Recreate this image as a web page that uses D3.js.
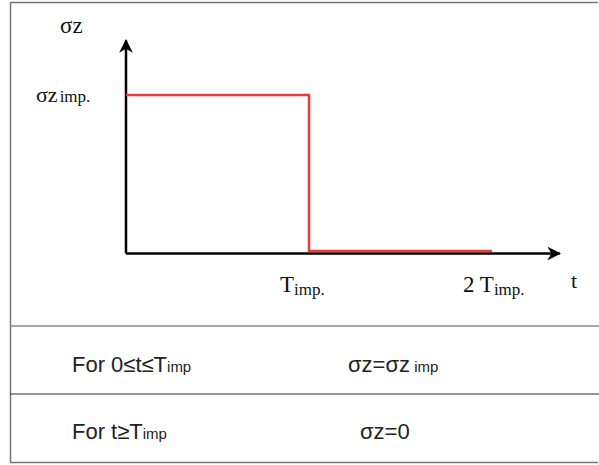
<!DOCTYPE html>
<html>
<head>
<meta charset="utf-8">
<script src="https://cdn.jsdelivr.net/npm/d3@7"></script>
<style>
  body { margin: 0; background: #fff; }
  .serif { font-family: "Liberation Serif", "DejaVu Serif", serif; fill: #111; }
  .sans { font-family: "Liberation Sans", Arial, sans-serif; fill: #222; }
</style>
</head>
<body>
<div id="chart"></div>
<script>
// step load: sigma_z over time (in units of T_imp)
const tValues = [0, 1, 1, 2];
const sigmaValues = [1, 1, 0, 0];

// axis tick labels
const xTicks = [{t: 1, pre: "", sub: "imp."}, {t: 2, pre: "2 ", sub: "imp."}];

// table rows
const rowCond = ["For 0\u2264t\u2264T", "For t\u2265T"];
const rowEq = [
  [{s: "\u03c3z=\u03c3z"}, {s: " imp", small: true}],
  [{s: "\u03c3z=0"}]
];

const width = 599, height = 465;

const svg = d3.select("#chart")
  .append("svg")
  .attr("width", width)
  .attr("height", height);

const x = d3.scaleLinear().domain([0, 2]).range([126, 492]);
const y = d3.scaleLinear().domain([0, 1]).range([251, 95]);

// outer frame + table dividers
svg.append("path")
  .attr("d", "M598,2.5H10.5V462.5H598")
  .attr("fill", "none")
  .attr("stroke", "#777")
  .attr("stroke-width", 1.5);
svg.append("line").attr("x1", 10).attr("x2", 599).attr("y1", 326).attr("y2", 326)
  .attr("stroke", "#888").attr("stroke-width", 1.5);
svg.append("line").attr("x1", 10).attr("x2", 599).attr("y1", 394).attr("y2", 394)
  .attr("stroke", "#333").attr("stroke-width", 1.2);

// arrow head
svg.append("defs").append("marker")
  .attr("id", "arrow")
  .attr("viewBox", "0 0 10 10")
  .attr("refX", 9).attr("refY", 5)
  .attr("markerWidth", 5.5).attr("markerHeight", 5.5)
  .attr("markerUnits", "strokeWidth")
  .attr("orient", "auto")
  .append("path")
  .attr("d", "M0,0 L10,5 L0,10 L3,5 Z")
  .attr("fill", "#000");

const axisY = y(0) + 2.5;

// axes
svg.append("path")
  .attr("d", `M${x(0)},${axisY}H${x(2.37)}`)
  .attr("stroke", "#000").attr("stroke-width", 2.5).attr("fill", "none")
  .attr("marker-end", "url(#arrow)");
svg.append("path")
  .attr("d", `M${x(0)},${axisY}V${y(1.35)}`)
  .attr("stroke", "#000").attr("stroke-width", 2.5).attr("fill", "none")
  .attr("marker-end", "url(#arrow)");

// the step line
const line = d3.line()
  .x((d, i) => x(tValues[i]))
  .y(d => y(d));

svg.append("path")
  .datum(sigmaValues)
  .attr("d", line)
  .attr("fill", "none")
  .attr("stroke", "#f03838")
  .attr("stroke-width", 2.5);

// axis labels
svg.append("text").attr("class", "serif")
  .attr("x", 60).attr("y", 33).attr("font-size", 23)
  .text("\u03c3z");

const yt = svg.append("text").attr("class", "serif").attr("x", 36).attr("y", y(1) + 7).attr("font-size", 22);
yt.append("tspan").text("\u03c3z");
yt.append("tspan").attr("font-size", 17).attr("dx", 2).text("imp.");

xTicks.forEach(d => {
  const tx = svg.append("text").attr("class", "serif")
    .attr("x", x(d.t) - 29).attr("y", 292)
    .attr("font-size", 23);
  tx.append("tspan").text(d.pre + "T");
  tx.append("tspan").attr("font-size", 17).attr("dy", 3).text(d.sub);
});

svg.append("text").attr("class", "serif")
  .attr("x", 571).attr("y", 288)
  .attr("font-size", 22)
  .text("t");

// table text
const rowY = [372, 439];
rowCond.forEach((c, i) => {
  const t = svg.append("text").attr("class", "sans")
    .attr("x", 72).attr("y", rowY[i]).attr("font-size", 22);
  t.append("tspan").text(c);
  t.append("tspan").attr("font-size", 15).text("imp");
});

const eqX = [348, 360];
rowEq.forEach((parts, i) => {
  const t = svg.append("text").attr("class", "sans")
    .attr("x", eqX[i]).attr("y", rowY[i]).attr("font-size", 22);
  parts.forEach(p => {
    t.append("tspan").attr("font-size", p.small ? 15 : 22).text(p.s);
  });
});
</script>
</body>
</html>
